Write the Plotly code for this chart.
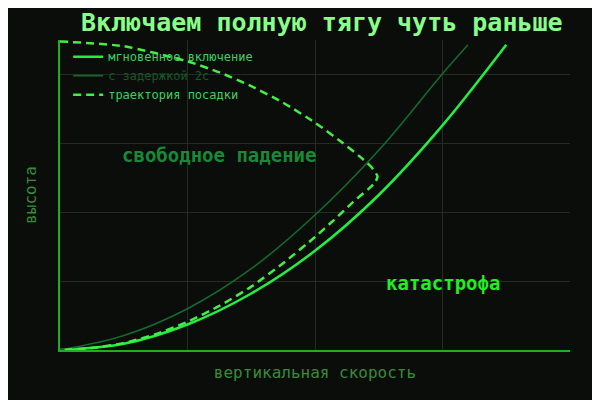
import plotly.graph_objects as go

# скорость / высота
v_instant = [0, 0.5, 1.0, 1.5, 2.0, 2.5, 3.0, 3.5]
h_instant = [0, 0.09, 0.37, 0.82, 1.44, 2.25, 3.26, 4.43]

v_delay = [0, 0.5, 1.0, 1.5, 2.0, 2.5, 3.0, 3.2]
h_delay = [0, 0.21, 0.60, 1.18, 1.96, 2.90, 4.01, 4.43]

v_path = [0, 0.5, 1.0, 1.25, 1.5, 1.75, 2.0, 2.2, 2.35, 2.44, 2.49, 2.47, 2.42,
          2.3, 2.15, 2.0, 1.75, 1.5, 1.25, 1.0, 0.75, 0.5, 0.25, 0]
h_path = [4.48, 4.41, 4.19, 4.03, 3.83, 3.59, 3.30, 3.03, 2.81, 2.66, 2.52, 2.43, 2.34,
          2.15, 1.89, 1.64, 1.26, 0.92, 0.64, 0.41, 0.23, 0.10, 0.03, 0]

names = ["мгновенное включение", "с задержкой 2с", "траектория посадки"]

BG = "#0a0d0a"
MONO = "DejaVu Sans Mono"

fig = go.Figure()
fig.add_trace(go.Scatter(
    x=v_instant, y=h_instant, mode="lines", name=names[0],
    line=dict(color="#22ee44", width=2.5, shape="spline"),
))
fig.add_trace(go.Scatter(
    x=v_delay, y=h_delay, mode="lines",
    name=f"<span style='color:#145a28'>{names[1]}</span>",
    line=dict(color="#146a2e", width=1.6, shape="spline"),
))
fig.add_trace(go.Scatter(
    x=v_path, y=h_path, mode="lines", name=names[2],
    line=dict(color="#44ee44", width=2.5, dash="8px,5px", shape="spline", smoothing=0.6),
))

fig.add_annotation(x=1.25, y=2.83, text="<b>свободное падение</b>", showarrow=False,
                   font=dict(family=MONO, size=19, color="#168a38"))
fig.add_annotation(x=3.0, y=0.97, text="<b>катастрофа</b>", showarrow=False,
                   font=dict(family=MONO, size=19, color="#22ee22"))

axis = dict(showticklabels=False, ticks="", zeroline=False,
            gridcolor="#242a24", gridwidth=1, showline=True,
            linecolor="#1fae1f", linewidth=2)

# страница рисуется со сдвигом ~8px, поэтому поля смещены
fig.update_layout(
    width=600, height=400,
    paper_bgcolor=BG, plot_bgcolor=BG,
    margin=dict(l=52, r=38, t=32, b=58),
    title=dict(text="<b>Включаем полную тягу чуть раньше</b>", x=0.523, xanchor="center",
               y=0.965, yanchor="middle", xref="container", yref="container",
               font=dict(family=MONO, size=25, color="#88ff88")),
    xaxis=dict(axis, range=[0, 4], dtick=1,
               title=dict(text="вертикальная скорость", standoff=16,
                          font=dict(family=MONO, size=16, color="#3a8a3a"))),
    yaxis=dict(axis, range=[0, 4.5], dtick=1,
               title=dict(text="высота", standoff=17,
                          font=dict(family=MONO, size=16, color="#3a8a3a"))),
    legend=dict(x=0.016, y=0.993, xanchor="left", yanchor="top",
                bgcolor="rgba(0,0,0,0)", font=dict(family=MONO, size=12, color="#3fcf5f"),
                tracegroupgap=0),
    showlegend=True,
)

fig.write_html("out.html")
